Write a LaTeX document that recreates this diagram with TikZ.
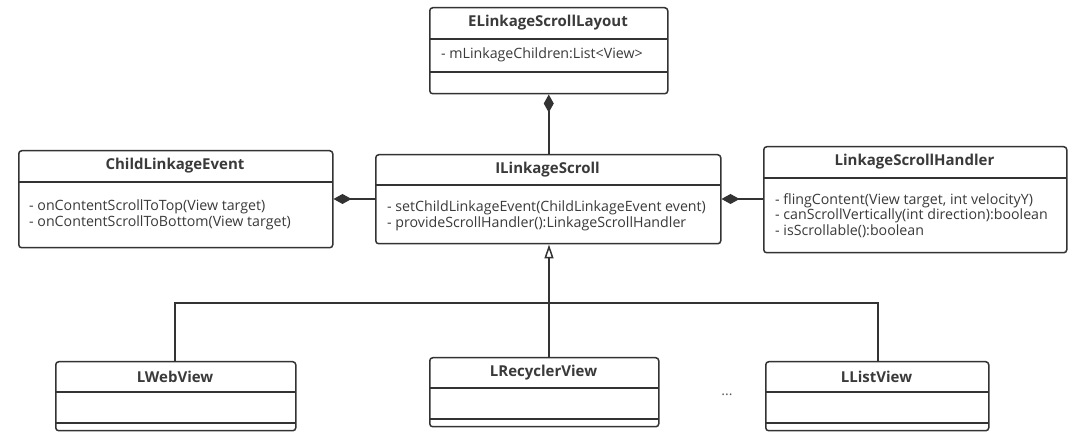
\documentclass[tikz,border=0pt]{standalone}
\usepackage{fontspec}
\setmainfont{Open Sans}
\usetikzlibrary{arrows.meta}
\definecolor{lc}{HTML}{333333}
\definecolor{tc}{HTML}{3A3A3A}
\tikzset{
  umlbox/.style={draw=lc, line width=1.5pt, rounded corners=3pt, inner sep=0pt, anchor=north west},
  divider/.style={draw=lc, line width=1.5pt},
  ttl/.style={font=\bfseries\fontsize{15}{16}\selectfont, text=tc, inner sep=0pt},
  mem/.style={font=\fontsize{14.2}{15.7}\selectfont, text=tc, align=left, anchor=west, inner sep=0pt},
  conn/.style={draw=lc, line width=1.5pt},
  comp/.style={-{Diamond[length=18pt,width=10pt,fill=lc]}},
  inh/.style={-{Triangle[open,length=14pt,width=9pt,line width=1.5pt]}},
}
\newcommand{\umlclass}[7]{% name, l, t, r, b, d1, title
  \node[umlbox, minimum width=#4pt-#2pt, minimum height=#5pt-#3pt] (#1) at (#2,#3) {};
  \draw[divider] (#2,#6) -- (#4,#6);
  \node[ttl] (#1-title) at ({(#2+#4)/2},{(#3+#6)/2}) {#7};
}
\begin{document}
\begin{tikzpicture}[x=1pt,y=-1pt]
\useasboundingbox[fill=white] (0,0) rectangle (1080,443);

% ELinkageScrollLayout
\umlclass{E}{429}{7}{667}{93}{39}{ELinkageScrollLayout}
\draw[divider] (429,72) -- (667,72);
\node[mem] (E-m) at (441,55) {- mLinkageChildren:List<View>};

% ChildLinkageEvent
\umlclass{C}{18}{150}{332}{247}{182}{ChildLinkageEvent}
\node[mem] (C-m) at (29,215) {- onContentScrollToTop(View target)\\- onContentScrollToBottom(View target)};

% ILinkageScroll
\umlclass{I}{375}{154}{720}{243}{185}{ILinkageScroll}
\node[mem] (I-m) at (387,215.5) {- setChildLinkageEvent(ChildLinkageEvent event)\\- provideScrollHandler():LinkageScrollHandler};

% LinkageScrollHandler
\umlclass{H}{763}{146}{1066}{252}{178}{LinkageScrollHandler}
\node[mem] (H-m) at (775,215.5) {- flingContent(View target, int velocityY)\\- canScrollVertically(int direction):boolean\\- isScrollable():boolean};

% LWebView
\umlclass{W}{55}{361}{295}{430}{392}{LWebView}
\draw[divider] (55,423) -- (295,423);
% LRecyclerView
\umlclass{R}{429}{357}{658}{426}{388}{LRecyclerView}
\draw[divider] (429,419) -- (658,419);
% LListView
\umlclass{LL}{765}{361}{988}{430}{392}{LListView}
\draw[divider] (765,423) -- (988,423);

\node[font=\fontsize{14}{14}\selectfont, text=tc!85] (dots) at (727,395) {...};

% connectors
\draw[conn, comp] (I.north -| E.south) -- (E.south);
\draw[conn, comp] (I.west |- 0,199) -- (C.east |- 0,199);
\draw[conn, comp] (H.west |- 0,199) -- (I.east |- 0,199);
\coordinate (bus) at (549,303);
\draw[conn, inh] (R.north -| bus) -- (I.south -| bus);
\draw[conn] (W.north -| 175,0) |- (bus) -| (LL.north -| 878,0);
\end{tikzpicture}
\end{document}
